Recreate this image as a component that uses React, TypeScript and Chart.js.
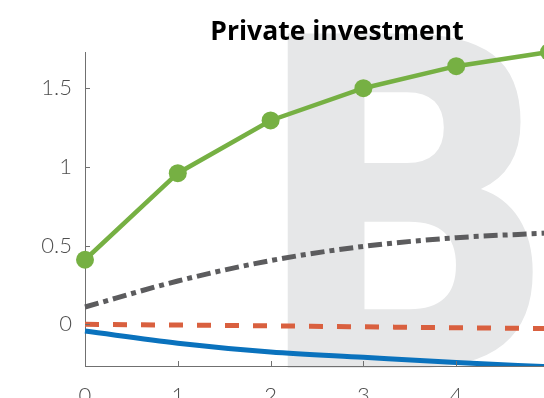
import React, { useEffect, useRef } from "react";
import { Chart, registerables } from "chart.js";

Chart.register(...registerables);

const categories = ["0", "1", "2", "3", "4", "5"];
const greenValues = [0.41, 0.96, 1.295, 1.5, 1.64, 1.73];
const greyValues = [0.11, 0.275, 0.405, 0.495, 0.55, 0.58];
const orangeValues = [0.0, -0.005, -0.01, -0.016, -0.022, -0.027];
const blueValues = [-0.043, -0.12, -0.176, -0.21, -0.243, -0.27];
const yTickValues = [0, 0.5, 1, 1.5];
const yMin = -0.265;
const yMax = 1.73;
const titleText = "Private investment";
const watermarkText = "B";

export default function App() {
  const ref = useRef<HTMLCanvasElement>(null);

  useEffect(() => {
    const canvas = ref.current;
    if (!canvas) return;

    const watermark = {
      id: "watermark",
      beforeDraw(chart: any) {
        const ctx = chart.ctx;
        ctx.save();
        ctx.font = 'bold 100px "DejaVu Sans"';
        const m = ctx.measureText(watermarkText);
        const h = m.actualBoundingBoxAscent + m.actualBoundingBoxDescent;
        const w = m.actualBoundingBoxLeft + m.actualBoundingBoxRight;
        const sx = 249 / w;
        const sy = 335 / h;
        ctx.translate(287, 33);
        ctx.scale(sx, sy);
        ctx.fillStyle = "#e6e7e8";
        ctx.textBaseline = "alphabetic";
        ctx.fillText(watermarkText, m.actualBoundingBoxLeft, m.actualBoundingBoxAscent);
        ctx.restore();
      },
    };

    const extras = {
      id: "extras",
      afterDraw(chart: any) {
        const ctx = chart.ctx;
        const xs = chart.scales.x;
        const ys = chart.scales.y;
        const area = chart.chartArea;
        ctx.save();
        ctx.strokeStyle = "#707070";
        ctx.lineWidth = 1;
        yTickValues.forEach((v) => {
          const py = Math.round(ys.getPixelForValue(v)) + 0.5;
          ctx.beginPath();
          ctx.moveTo(area.left, py);
          ctx.lineTo(area.left + 5, py);
          ctx.stroke();
        });
        categories.forEach((_, i) => {
          const px = Math.round(xs.getPixelForValue(i)) + 0.5;
          ctx.beginPath();
          ctx.moveTo(px, area.bottom);
          ctx.lineTo(px, area.bottom - 5);
          ctx.stroke();
        });
        ctx.fillStyle = "#000";
        ctx.font = 'bold 26.5px "Open Sans"';
        ctx.textAlign = "center";
        ctx.textBaseline = "alphabetic";
        ctx.fillText(titleText, 337, 40);
        ctx.restore();
      },
    };

    const chart = new Chart(canvas, {
      type: "line",
      data: {
        labels: categories,
        datasets: [
          {
            label: "green",
            data: greenValues,
            borderColor: "#76b043",
            backgroundColor: "#76b043",
            borderWidth: 4.5,
            pointRadius: 9,
            pointHoverRadius: 9,
            pointBorderWidth: 0,
            tension: 0,
            order: 1,
            clip: false as any,
          },
          {
            label: "grey",
            data: greyValues,
            borderColor: "#5c5c5e",
            borderWidth: 5,
            borderDash: [14, 5, 5, 5],
            pointRadius: 0,
            cubicInterpolationMode: "monotone",
            order: 2,
          },
          {
            label: "orange",
            data: orangeValues,
            borderColor: "#d9603f",
            borderWidth: 5,
            borderDash: [14, 14],
            pointRadius: 0,
            cubicInterpolationMode: "monotone",
            order: 3,
          },
          {
            label: "blue",
            data: blueValues,
            borderColor: "#0a72bd",
            borderWidth: 5,
            pointRadius: 0,
            cubicInterpolationMode: "monotone",
            order: 4,
          },
        ],
      },
      options: {
        responsive: false,
        animation: false,
        layout: { padding: { left: 0, top: 52, right: 11, bottom: 0 } },
        plugins: {
          legend: { display: false },
          title: { display: false },
          tooltip: { enabled: false },
        },
        scales: {
          x: {
            type: "category",
            offset: false,
            grid: { display: false, drawTicks: false },
            border: { display: true, color: "#707070", width: 1 },
            ticks: {
              padding: 17,
              color: "#4f4f4f",
              font: { family: "Lato", size: 22, weight: "300" as any },
              maxRotation: 0,
            },
            afterFit(s: any) {
              s.height = 50;
              s.paddingLeft = 0;
              s.paddingRight = 0;
            },
          },
          y: {
            type: "linear",
            min: yMin,
            max: yMax,
            grid: { display: false, drawTicks: false },
            border: { display: true, color: "#707070", width: 1 },
            afterBuildTicks(s: any) {
              s.ticks = yTickValues.map((v) => ({ value: v }));
            },
            ticks: {
              padding: 13,
              color: "#4f4f4f",
              font: { family: "Lato", size: 22, weight: "300" as any },
              callback: (v: any) => String(v),
            },
            afterFit(s: any) {
              s.width = 85;
              s.paddingTop = 0;
              s.paddingBottom = 0;
            },
          },
        },
      },
      plugins: [watermark, extras],
    });

    return () => chart.destroy();
  }, []);

  return (
    <div
      style={{
        position: "fixed",
        left: 0,
        top: 0,
        width: 544,
        height: 398,
        overflow: "hidden",
        background: "#fff",
      }}
    >
      <canvas
        ref={ref}
        width={560}
        height={416}
        style={{ display: "block", width: 560, height: 416 }}
      />
    </div>
  );
}
